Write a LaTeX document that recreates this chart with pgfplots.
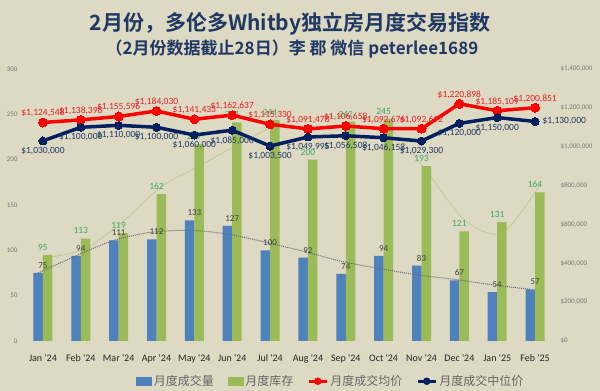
\documentclass[border=0pt]{standalone}
\usepackage{fontspec}
\setmainfont{Carlito}
\newfontfamily\cjk{Noto Sans CJK SC}
\newfontfamily\cjkb{Noto Sans CJK SC Bold}
\usepackage{pgfplots}
\pgfplotsset{compat=1.18}
\definecolor{bg}{RGB}{221,217,195}
\definecolor{barblue}{RGB}{79,129,189}
\definecolor{bargreen}{RGB}{155,187,89}
\definecolor{lred}{RGB}{255,0,0}
\definecolor{navy}{RGB}{0,32,96}
\definecolor{navytext}{RGB}{31,56,100}
\definecolor{redtext}{RGB}{235,30,35}
\definecolor{greentext}{RGB}{60,170,100}
\definecolor{titlec}{RGB}{31,56,100}
\definecolor{ticktext}{RGB}{120,120,120}
\definecolor{trendgreen}{RGB}{196,200,150}
\definecolor{trendgray}{RGB}{100,105,120}
\begin{document}
\begin{tikzpicture}
\fill[bg] (0,0) rectangle (600pt,391pt);
\useasboundingbox (0,0) rectangle (600pt,391pt);
\node[font=\cjkb\fontsize{21}{24}\selectfont, text=titlec] at (290pt,367pt) {2月份，多伦多Whitby独立房月度交易指数};
\node[font=\cjkb\fontsize{17}{20}\selectfont, text=titlec] at (292pt,342pt) {（2月份数据截止28日）李 郡 微信 peterlee1689};

\begin{axis}[
  at={(24pt,50pt)}, anchor=south west, scale only axis,
  width=530pt, height=272pt,
  xmin=-0.5, xmax=13.5, ymin=0, ymax=300,
  ytick={0,50,...,300},
  xtick={0,...,13},
  xticklabels={Jan \textquotesingle 24,Feb \textquotesingle 24,Mar \textquotesingle 24,Apr \textquotesingle 24,May \textquotesingle 24,Jun \textquotesingle 24,Jul \textquotesingle 24,Aug \textquotesingle 24,Sep \textquotesingle 24,Oct \textquotesingle 24,Nov \textquotesingle 24,Dec \textquotesingle 24,Jan \textquotesingle 25,Feb \textquotesingle 25},
  axis line style={draw=none}, major tick length=0pt,
  x tick label style={font=\fontsize{10}{12}\selectfont, text=black!85, yshift=-10pt},
  y tick label style={font=\fontsize{7}{8}\selectfont, text=ticktext, xshift=-3pt},
  /pgf/number format/assume math mode=true,
  clip=false,
]
% inventory smooth trend (behind bars)
\addplot[smooth, trendgreen, line width=0.8pt] coordinates {
(0.125,92) (1.125,102) (2.125,132) (3.125,170) (4.125,193) (5.125,216) (6.125,237) (7.125,246) (8.125,247) (9.125,236) (10.125,188) (11.125,134) (12.125,119) (13.125,172)};
% sales bars
\addplot[ybar, bar width=9.5pt, bar shift=-4.75pt, fill=barblue, draw=none,
  nodes near coords, nodes near coords style={font=\fontsize{9}{10}\selectfont, text=black!75, yshift=1pt}]
  coordinates {(0,75) (1,94) (2,111) (3,112) (4,133) (5,127) (6,100) (7,92) (8,74) (9,94) (10,83) (11,67) (12,54) (13,57)};
% inventory bars
\addplot[ybar, bar width=9.5pt, bar shift=4.75pt, fill=bargreen, draw=none,
  nodes near coords, nodes near coords style={font=\fontsize{9.5}{10}\selectfont, text=greentext, yshift=1pt}]
  coordinates {(0,95) (1,113) (2,119) (3,162) (4,217) (5,241) (6,244) (7,200) (8,242) (9,245) (10,193) (11,121) (12,131) (13,164)};
% sales dotted trend
\addplot[smooth, trendgray, densely dotted, line width=1pt] coordinates {
(-0.125,75) (0.875,94) (1.875,111) (2.875,120) (3.875,122) (4.875,118) (5.875,109) (6.875,99) (7.875,88) (8.875,80) (9.875,73) (10.875,68) (11.875,62) (12.875,57)};
\end{axis}

\begin{axis}[
  at={(24pt,50pt)}, anchor=south west, scale only axis,
  width=530pt, height=272pt,
  xmin=-0.5, xmax=13.5, ymin=0, ymax=1400000,
  axis x line=none, axis y line*=right,
  axis line style={draw=none}, major tick length=0pt,
  scaled y ticks=false,
  ytick={0,200000,400000,600000,800000,1000000,1200000,1400000},
  yticklabels={{\$0},{\$200,000},{\$400,000},{\$600,000},{\$800,000},{\$1,000,000},{\$1,200,000},{\$1,400,000}},
  y tick label style={font=\fontsize{7}{8}\selectfont, text=ticktext, xshift=3pt},
  clip=false,
  legend style={at={(0.579,-0.148)}, anchor=center, draw=none, fill=none,
    font=\cjk\fontsize{12}{14}\selectfont, text=black!60,
    /tikz/every even column/.append style={column sep=12pt}},
  legend columns=4,
  legend cell align=left,
]
\addlegendimage{legend image code/.code={\fill[barblue] (0pt,-3.5pt) rectangle (15pt,4pt);}}
\addlegendentry{月度成交量}
\addlegendimage{legend image code/.code={\fill[bargreen] (0pt,-3.5pt) rectangle (15pt,4pt);}}
\addlegendentry{月度库存}
\addlegendimage{legend image code/.code={\draw[lred, line width=3pt] (0pt,0pt) -- (18pt,0pt); \fill[lred] (9pt,0pt) circle (3.5pt);}}
\addlegendentry{月度成交均价}
\addlegendimage{legend image code/.code={\draw[navy, line width=3pt] (0pt,0pt) -- (18pt,0pt); \fill[navy] (9pt,0pt) circle (3.5pt);}}
\addlegendentry{月度成交中位价}

\addplot[forget plot, lred, line width=3.5pt, mark=*, mark size=4.5pt, mark options={fill=lred, draw=lred, line width=0pt},
  point meta=explicit symbolic, nodes near coords,
  nodes near coords style={font=\fontsize{9.5}{10}\selectfont, text=redtext, anchor=south, yshift=2pt}]
  coordinates {
  (0,1124548) [\$1,124,548]
  (1,1138398) [\$1,138,398]
  (2,1155596) [\$1,155,596]
  (3,1184030) [\$1,184,030]
  (4,1141433) [\$1,141,433]
  (5,1162637) [\$1,162,637]
  (6,1115330) [\$1,115,330]
  (7,1091478) [\$1,091,478]
  (8,1106658) [\$1,106,658]
  (9,1092676) [\$1,092,676]
  (10,1092692) [\$1,092,692]
  (11,1220898) [\$1,220,898]
  (12,1185109) [\$1,185,109]
  (13,1200851) [\$1,200,851]
  };
\addplot[forget plot, navy, line width=3.5pt, mark=*, mark size=4pt, mark options={fill=navy, draw=navy, line width=0pt},
  point meta=explicit symbolic, nodes near coords,
  nodes near coords style={font=\fontsize{9.5}{10}\selectfont, text=navytext, anchor=north, yshift=-3pt}]
  coordinates {
  (0,1030000) [\$1,030,000]
  (1,1100000) [\$1,100,000]
  (2,1110000) [\$1,110,000]
  (3,1100000) [\$1,100,000]
  (4,1060000) [\$1,060,000]
  (5,1085000) [\$1,085,000]
  (6,1003500) [\$1,003,500]
  (7,1049995) [\$1,049,995]
  (8,1056508) [\$1,056,508]
  (9,1046158) [\$1,046,158]
  (10,1029300) [\$1,029,300]
  (11,1120000) [\$1,120,000]
  (12,1150000) [\$1,150,000]
  (13,1130000) []
  };
\addplot[forget plot, draw=none, mark=none, point meta=explicit symbolic, nodes near coords,
  nodes near coords style={font=\fontsize{9.5}{10}\selectfont, text=navytext, anchor=west, xshift=4pt, yshift=0pt}]
  coordinates {(13,1130000) [\$1,130,000]};
\end{axis}
\end{tikzpicture}
\end{document}
